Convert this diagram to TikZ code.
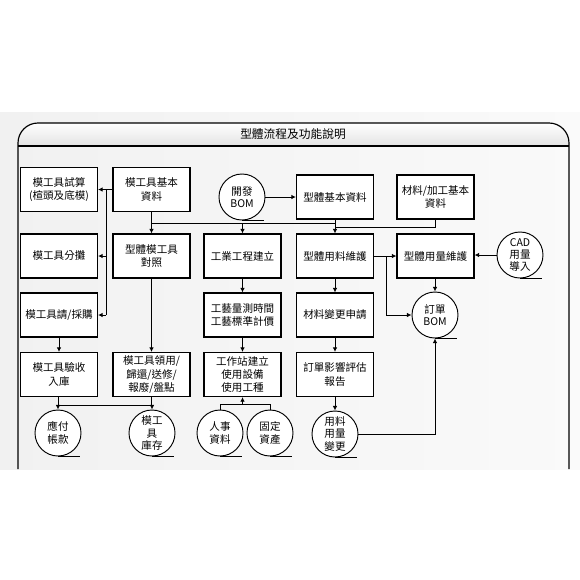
\documentclass[tikz,border=0pt]{standalone}
\usepackage{fontspec}
\usepackage{tikz}
\newfontfamily\cjk{Noto Sans CJK TC}
\usetikzlibrary{
    arrows.meta,
    positioning,
    calc
}
\tikzset{
  ln/.style  = {line width=0.8pt, black},
  arr/.style = {-{Latex[length=4pt,width=4pt]}, line width=0.8pt, black}
}
\definecolor{bandgray}{RGB}{241,241,241}

\begin{document}
\begin{tikzpicture}[
  x=0.03cm, y=-0.03cm,
  blk/.style={draw, line width=0.9pt, fill=white, minimum width=2.31cm,
              minimum height=1.32cm, inner sep=1pt, align=center,
              font=\cjk\fontsize{9}{11.5}\selectfont},
  circ/.style={draw, circle, line width=0.8pt, fill=white, minimum size=1.38cm,
               inner sep=0pt, align=center,
               font=\cjk\fontsize{9}{10.5}\selectfont},
  ttl/.style={font=\cjk\fontsize{10}{12}\selectfont}
]
\useasboundingbox (0,0) rectangle (580,580);

% background band and frame
\shade[left color=bandgray, right color=gray!4] (0,112) rectangle (580,469);
\shade[top color=white, bottom color=gray!22]
  (18,146) -- (18,143) arc[start angle=180, end angle=270, radius=20]
  -- (549,123) arc[start angle=270, end angle=360, radius=20] -- (569,146) -- cycle;
\draw[line width=1pt] (18,469) -- (18,143) arc[start angle=180, end angle=270, radius=20]
  -- (549,123) arc[start angle=270, end angle=360, radius=20] -- (569,469);
\draw[line width=1pt] (18,146) -- (569,146);
\node[ttl] (title) at (293,134) {型體流程及功能說明};

% row 1
\node[blk] (trial)   at (59,189.5)  {模工具試算\\(楦頭及底模)};
\node[blk] (mbase)   at (151.5,189.5) {模工具基本\\資料};
\node[circ] (devbom) at (242,197)   {開發\\BOM};
\node[blk] (sbase)   at (335,197)   {型體基本資料};
\node[blk] (matbase) at (435.5,197) {材料/加工基本\\資料};

% row 2
\node[blk] (alloc) at (59,256)    {模工具分攤};
\node[blk] (mmap)  at (151.5,256) {型體模工具\\對照};
\node[blk] (ie)    at (242.5,256) {工業工程建立};
\node[blk] (suse)  at (335,256)   {型體用料維護};
\node[blk] (sqty)  at (435.5,256) {型體用量維護};
\node[circ] (cad)  at (520,255)   {CAD\\用量\\導入};

% row 3
\node[blk] (buy)   at (59,315)    {模工具請/採購};
\node[blk] (time)  at (242.5,315) {工藝量測時間\\工藝標準計價};
\node[blk] (chg)   at (335,315)   {材料變更申請};
\node[circ] (obom) at (435,315)   {訂單\\BOM};

% row 4
\node[blk] (recv)  at (59,374.5)    {模工具驗收\\入庫};
\node[blk] (issue) at (151.5,374.5) {模工具領用/\\歸還/送修/\\報廢/盤點};
\node[blk] (ws)    at (242.5,374.5) {工作站建立\\使用設備\\使用工種};
\node[blk] (rpt)   at (335,374.5)   {訂單影響評估\\報告};

% data stores
\node[circ] (ap)    at (58,433)  {應付\\帳款};
\node[circ] (stock) at (152,433) {模工\\具\\庫存};
\node[circ] (hr)    at (220,433) {人事\\資料};
\node[circ] (asset) at (270,433) {固定\\資產};
\node[circ] (qchg)  at (335,434) {用料\\用量\\變更};

\foreach \c in {devbom,cad,obom,ap,stock,hr,asset,qchg}
  \draw[ln] (\c.south) -- ++(22,0);

% bus points
\coordinate (mbus)  at (106,189.5);
\coordinate (tbus)  at (151.5,223);
\coordinate (mtbus) at (335,227);
\coordinate (sbus)  at (386,256);
\coordinate (rbus)  at (58,405);
\coordinate (hbus)  at (242.5,404);

% mould tool data
\draw[arr] (mbase.west) -- (trial.east);
\draw[ln]  (mbus) -- (mbus |- buy);
\draw[arr] (mbus |- alloc) -- (alloc.east);
\draw[arr] (mbus |- buy) -- (buy.east);
\draw[arr] (mbase.south) -- (mmap.north);
\draw[arr] (mmap.south) -- (issue.north);
\draw[arr] (buy.south) -- (recv.north);

% style basics
\draw[arr] (devbom.east) -- (sbase.west |- devbom.east);
\draw[ln]  (sbase.south) -- (sbase.south |- tbus) -- (tbus);
\draw[arr] (ie.north |- tbus) -- (ie.north);
\draw[arr] (sbase.south |- tbus) -- (suse.north);
\draw[ln]  (matbase.south) -- (matbase.south |- mtbus) -- (mtbus);

% industrial engineering
\draw[arr] (ie.south) -- (time.north);
\draw[arr] (time.south) -- (ws.north);
\draw[ln]  (hr.north) -- (hr.north |- hbus) -- (asset.north |- hbus) -- (asset.north);
\draw[arr] (hbus) -- (ws.south);

% material usage
\draw[arr] (suse.east) -- (sqty.west);
\draw[arr] (sbus) -- (sbus |- obom) -- (obom.west);
\draw[arr] (cad.west) -- (sqty.east |- cad.west);
\draw[arr] (sqty.south -| obom) -- (obom.north);
\draw[arr] (suse.south) -- (chg.north);
\draw[arr] (chg.south) -- (rpt.north);
\draw[arr] (rpt.south) -- (qchg.north);
\draw[arr] (qchg.east) -- (qchg.east -| obom) -- (obom.south);

% receiving and stock
\draw[ln]  (recv.south -| rbus) -- (rbus) -- (rbus -| stock);
\draw[ln]  (issue.south) -- (issue.south |- rbus);
\draw[arr] (rbus) -- (ap.north);
\draw[arr] (rbus -| stock) -- (stock.north);

\end{tikzpicture}
\end{document}
